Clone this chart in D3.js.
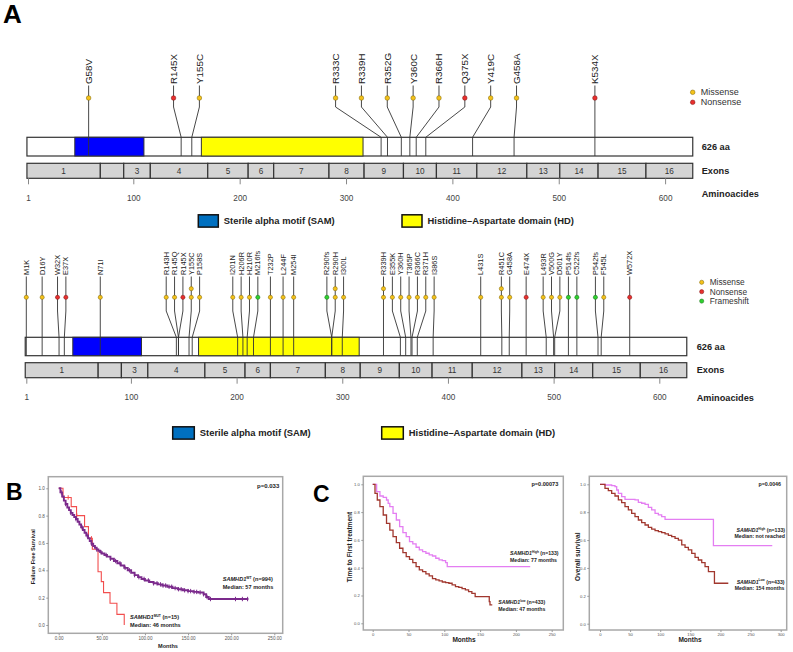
<!DOCTYPE html>
<html>
<head>
<meta charset="utf-8">
<script src="https://cdn.jsdelivr.net/npm/d3@7"></script>
<style>
body { margin: 0; background: #fff; }
svg { display: block; font-family: "Liberation Sans", Arial, sans-serif; }
</style>
</head>
<body>
<div id="chart"></div>
<script>
// ---- protein (SAMHD1, 626 aa) ----
const proteinLength = 626;
const exonBounds = [0, 69, 91, 116, 170, 208, 232, 284, 317, 354, 385, 423, 470, 501, 537, 582, 626];
const exonLabels = ["1", "", "3", "4", "5", "6", "7", "8", "9", "10", "11", "12", "13", "14", "15", "16"];
const domainNames = ["Sterile alpha motif (SAM)", "Histidine\u2013Aspartate domain (HD)"];
const domainStart = [45, 164];
const domainEnd = [110, 316];
const aaTicks = [1, 100, 200, 300, 400, 500, 600];

// top track
const mutA = ["G58V", "R145X", "Y155C", "R333C", "R339H", "R352G", "Y360C", "R366H", "Q375X", "Y419C", "G458A", "K534X"];
const mutAPos = [58, 145, 155, 333, 339, 352, 360, 366, 375, 419, 458, 534];
const mutAType = ["Missense", "Nonsense", "Missense", "Missense", "Missense", "Missense", "Missense", "Missense", "Nonsense", "Missense", "Missense", "Nonsense"];
const mutACount = [1, 1, 1, 1, 1, 1, 1, 1, 1, 1, 1, 1];

// bottom track
const mutB = ["M1K", "D16Y", "W32X", "E37X", "N71I", "R143H", "R145Q", "R145X", "Y155C", "P158S",
  "I201N", "H206R", "H210R", "M216fs", "T232P", "L244F", "M254I", "R290fs", "R290H", "I300L",
  "R339H", "E355K", "Y360H", "T365P", "R366C", "R371H", "I386S", "L431S", "R451C", "G458A",
  "E474X", "L493R", "V500G", "D501Y", "P514fs", "C522fs", "P542fs", "F545L", "W572X"];
const mutBPos = [1, 16, 32, 37, 71, 143, 145, 145, 155, 158,
  201, 206, 210, 216, 232, 244, 254, 290, 290, 300,
  339, 355, 360, 365, 366, 371, 386, 431, 451, 458,
  474, 493, 500, 501, 514, 522, 542, 545, 572];
const mutBType = ["Missense", "Missense", "Nonsense", "Nonsense", "Missense", "Missense", "Missense", "Nonsense", "Missense", "Missense",
  "Missense", "Missense", "Missense", "Frameshift", "Missense", "Missense", "Missense", "Frameshift", "Missense", "Missense",
  "Missense", "Missense", "Missense", "Missense", "Missense", "Missense", "Missense", "Missense", "Missense", "Missense",
  "Nonsense", "Missense", "Missense", "Missense", "Frameshift", "Frameshift", "Frameshift", "Missense", "Nonsense"];
const mutBCount = [1, 1, 1, 1, 1, 1, 1, 1, 2, 1,
  1, 1, 1, 1, 1, 1, 1, 1, 2, 1,
  2, 1, 1, 1, 1, 1, 1, 1, 2, 1,
  1, 1, 1, 1, 1, 1, 1, 1, 1];

// ---- survival curves (months, survival) ----
const ffsWT = [[0, 1], [2, 0.97], [4, 0.94], [6, 0.91], [8, 0.885], [10, 0.86], [12, 0.84], [14, 0.82], [16, 0.805],
  [18, 0.79], [20, 0.775], [22, 0.755], [24, 0.735], [26, 0.715], [28, 0.695], [30, 0.675], [32, 0.655], [34, 0.635],
  [36, 0.615], [38, 0.595], [40, 0.578], [42, 0.565], [44, 0.553], [46, 0.543], [48, 0.533], [50, 0.523], [53, 0.512],
  [56, 0.5], [60, 0.485], [64, 0.468], [68, 0.452], [72, 0.435], [76, 0.418], [80, 0.4], [84, 0.382], [88, 0.365],
  [92, 0.35], [96, 0.337], [100, 0.326], [105, 0.315], [110, 0.305], [115, 0.297], [120, 0.289], [126, 0.28],
  [132, 0.27], [138, 0.262], [144, 0.254], [150, 0.248], [156, 0.242], [162, 0.238], [168, 0.225], [171, 0.205],
  [174, 0.19], [220, 0.19]];
const ffsWTCensor = [3, 8, 14, 20, 27, 33, 38, 44, 49, 55, 60, 66, 71, 77, 82, 88, 93, 99, 104, 110, 114, 118, 121,
  124, 128, 131, 135, 139, 142, 146, 150, 153, 157, 160, 164, 168, 172, 176, 205, 213, 219];
const ffsMUT = [[0, 1], [5, 0.933], [14.5, 0.866], [20.7, 0.8], [30, 0.72], [34.5, 0.634], [39, 0.554], [45.6, 0.39],
  [49.4, 0.317], [52, 0.237], [59.5, 0.159], [67.5, 0.078], [76, 0]];
const ffsMUTCensor = [11, 21, 38];

const ttftHigh = [[0, 1], [5.5, 0.947], [10.1, 0.916], [14.7, 0.906], [19.3, 0.887], [21.6, 0.863], [23.9, 0.839],
  [28.4, 0.791], [33, 0.743], [37.6, 0.695], [42.2, 0.652], [46.8, 0.624], [51.4, 0.588], [56, 0.571], [60.6, 0.547],
  [65.1, 0.528], [69.7, 0.516], [74.3, 0.504], [78.9, 0.492], [83.5, 0.484], [88.1, 0.468], [92.7, 0.456],
  [97.2, 0.451], [101.8, 0.436], [104.1, 0.408], [220, 0.408]];
const ttftLow = [[0, 1], [3.2, 0.935], [6.4, 0.887], [10.1, 0.839], [14.7, 0.779], [19.3, 0.719], [23.9, 0.671],
  [28.4, 0.624], [33, 0.58], [37.6, 0.54], [42.2, 0.508], [46.8, 0.48], [51.4, 0.46], [56, 0.436], [60.6, 0.408],
  [65.1, 0.384], [69.7, 0.372], [74.3, 0.355], [78.9, 0.341], [83.5, 0.321], [88.1, 0.312], [92.7, 0.305],
  [97.2, 0.297], [101.8, 0.293], [106.4, 0.288], [110.9, 0.276], [115.6, 0.264], [120.2, 0.259], [124.8, 0.249],
  [129.4, 0.24], [133.9, 0.228], [138.5, 0.216], [143.1, 0.192], [162.8, 0.156], [163.8, 0.132], [167, 0.132]];

const osHigh = [[0, 1], [8.3, 0.995], [19.4, 0.99], [24.9, 0.983], [27.7, 0.959], [30.5, 0.935], [36, 0.911],
  [41.5, 0.892], [58.1, 0.888], [63.7, 0.871], [69.2, 0.864], [74.8, 0.856], [80.3, 0.835], [85.8, 0.816],
  [91.4, 0.792], [96.9, 0.78], [102.4, 0.768], [108, 0.749], [188.3, 0.56], [286, 0.56]];
const osLow = [[0, 1], [8.3, 0.971], [13.8, 0.955], [19.4, 0.935], [24.9, 0.916], [30.5, 0.888], [36, 0.868],
  [41.5, 0.84], [47.1, 0.816], [52.6, 0.792], [58.1, 0.768], [63.7, 0.744], [69.2, 0.725], [74.8, 0.708],
  [80.3, 0.691], [85.8, 0.679], [91.4, 0.667], [96.9, 0.66], [102.4, 0.653], [108, 0.644], [113.5, 0.634],
  [119, 0.624], [124.6, 0.612], [130.1, 0.6], [135.7, 0.565], [141.2, 0.548], [146.7, 0.529], [152.3, 0.505],
  [157.8, 0.476], [163.3, 0.457], [168.9, 0.438], [174.4, 0.409], [180, 0.373], [190, 0.29], [213, 0.29]];

const survTicks = [0, 0.2, 0.4, 0.6, 0.8, 1.0];

// colours
const typeFill = {Missense: "#f4c21b", Nonsense: "#e8302e", Frameshift: "#2fd12f"};
const typeStroke = {Missense: "#7d6200", Nonsense: "#7a1212", Frameshift: "#146a14"};
const domainBarFill = ["#0000ff", "#ffff00"];
const domainKeyFill = ["#0070c0", "#ffff00"];

const W = 793, H = 652;
const svg = d3.select("#chart").append("svg")
    .attr("width", W)
    .attr("height", H);
svg.append("rect").attr("width", W).attr("height", H).attr("fill", "#fff");

// panel letters
[["A", 3, 23, 26], ["B", 6, 500, 23], ["C", 313, 502, 23]].forEach(p => {
    svg.append("text").attr("x", p[1]).attr("y", p[2])
        .attr("font-size", p[3]).attr("font-weight", "bold").text(p[0]);
});

// spread lollipop heads so they keep a minimal gap, groups centred on their sites
function spread(xs, gap) {
    let groups = xs.map(v => ({sum: v, n: 1}));
    let changed = true;
    while (changed) {
        changed = false;
        for (let i = 0; i < groups.length - 1; i++) {
            const a = groups[i], b = groups[i + 1];
            const aEnd = a.sum / a.n + (a.n - 1) * gap / 2;
            const bStart = b.sum / b.n - (b.n - 1) * gap / 2;
            if (bStart - aEnd < gap - 1e-6) {
                a.sum += b.sum; a.n += b.n;
                groups.splice(i + 1, 1);
                changed = true;
                break;
            }
        }
    }
    const out = [];
    groups.forEach(g => {
        const c = g.sum / g.n;
        for (let k = 0; k < g.n; k++) out.push(c + (k - (g.n - 1) / 2) * gap);
    });
    return out;
}

function drawTrack(c) {
    const g = svg.append("g");
    const x = d3.scaleLinear().domain([1, 600]).range(c.range);

    // protein bar + domains
    g.append("rect").attr("x", x(0)).attr("y", c.barTop)
        .attr("width", x(proteinLength) - x(0)).attr("height", c.barBot - c.barTop)
        .attr("fill", "#fff").attr("stroke", "#333").attr("stroke-width", 1.2);
    domainStart.forEach((s, i) => {
        g.append("rect").attr("x", x(s)).attr("y", c.barTop)
            .attr("width", x(domainEnd[i]) - x(s)).attr("height", c.barBot - c.barTop)
            .attr("fill", domainBarFill[i]).attr("stroke", "#333").attr("stroke-width", 1);
    });

    // exons
    d3.range(exonLabels.length).forEach(i => {
        const x0 = x(exonBounds[i]), x1 = x(exonBounds[i + 1]);
        g.append("rect").attr("x", x0).attr("y", c.exTop)
            .attr("width", x1 - x0).attr("height", c.exBot - c.exTop)
            .attr("fill", "#d4d4d4").attr("stroke", "#333").attr("stroke-width", 1.2);
        g.append("text").attr("x", (x0 + x1) / 2).attr("y", (c.exTop + c.exBot) / 2)
            .attr("dy", "0.35em").attr("text-anchor", "middle")
            .attr("font-size", 8.2).attr("fill", "#333").text(exonLabels[i]);
    });

    // amino-acid axis
    const ax = g.append("g").attr("transform", `translate(0,${c.exBot})`)
        .call(d3.axisBottom(x).tickValues(aaTicks).tickSize(6).tickPadding(c.tickPad));
    ax.select(".domain").remove();
    ax.selectAll("line").attr("stroke", "#888");
    ax.selectAll("text").attr("font-size", 8.2).attr("fill", "#444")
        .attr("font-family", "Liberation Sans, Arial, sans-serif");

    // lollipops
    const order = d3.range(c.pos.length).sort((a, b) => c.pos[a] - c.pos[b]);
    const heads = spread(order.map(i => x(c.pos[i])), c.gap);
    order.forEach((i, k) => {
        const bx = x(c.pos[i]), hx = heads[k];
        g.append("path")
            .attr("d", `M${hx},${c.yLabel + 1.5}L${hx},${c.yBend}L${bx},${c.barTop}L${bx},${c.barBot}`)
            .attr("fill", "none").attr("stroke", "#333").attr("stroke-width", 0.9);
        for (let n = 0; n < c.count[i]; n++) {
            g.append("circle").attr("cx", hx).attr("cy", c.yHead - n * c.stack)
                .attr("r", c.r)
                .attr("fill", typeFill[c.type[i]]).attr("stroke", typeStroke[c.type[i]])
                .attr("stroke-width", 0.5);
        }
        g.append("text")
            .attr("transform", `translate(${hx},${c.yLabel}) rotate(-90)`)
            .attr("dy", "0.35em").attr("font-size", c.labelFont).attr("fill", "#222")
            .text(c.labels[i]);
    });

    // mutation type key
    c.keyTypes.forEach((t, i) => {
        const y = c.keyY + i * c.keyStep;
        g.append("circle").attr("cx", c.keyX).attr("cy", y).attr("r", c.r)
            .attr("fill", typeFill[t]).attr("stroke", typeStroke[t]).attr("stroke-width", 0.5);
        g.append("text").attr("x", c.keyX + 8).attr("y", y).attr("dy", "0.35em")
            .attr("font-size", c.keyFont).attr("fill", "#333").text(t);
    });

    // right-hand captions
    [[proteinLength + " aa", (c.barTop + c.barBot) / 2], ["Exons", (c.exTop + c.exBot) / 2], ["Aminoacides", c.aaCapY]]
        .forEach(d => {
            g.append("text").attr("x", c.capX).attr("y", d[1]).attr("dy", "0.35em")
                .attr("font-size", 9.2).attr("font-weight", "bold").attr("fill", "#222").text(d[0]);
        });

    // domain key
    domainNames.forEach((name, i) => {
        g.append("rect").attr("x", c.domKeyX[i]).attr("y", c.domKeyY - 6.2)
            .attr("width", c.domKeyW).attr("height", 12.3)
            .attr("fill", domainKeyFill[i]).attr("stroke", "#111").attr("stroke-width", 1.5);
        g.append("text").attr("x", c.domKeyX[i] + c.domKeyW + 5.5).attr("y", c.domKeyY).attr("dy", "0.35em")
            .attr("font-size", 9.4).attr("font-weight", "bold").attr("fill", "#222").text(name);
    });
}

drawTrack({
    range: [28, 665.1], labels: mutA, pos: mutAPos, type: mutAType, count: mutACount,
    yLabel: 84, yHead: 98, yBend: 107, barTop: 137.3, barBot: 156, exTop: 163.3, exBot: 178.3,
    tickPad: 11, gap: 25.85, stack: 8.6, r: 2.3, labelFont: 9.8,
    keyTypes: ["Missense", "Nonsense"], keyX: 692.7, keyY: 92.3, keyStep: 10, keyFont: 9,
    capX: 701.7, aaCapY: 194,
    domKeyX: [198.3, 402], domKeyY: 221, domKeyW: 20
});

drawTrack({
    range: [26.3, 659.3], labels: mutB, pos: mutBPos, type: mutBType, count: mutBCount,
    yLabel: 275, yHead: 297.3, yBend: 311, barTop: 337.3, barBot: 355.7, exTop: 362.7, exBot: 377.7,
    tickPad: 10.5, gap: 8.35, stack: 8.6, r: 2.1, labelFont: 7.4,
    keyTypes: ["Missense", "Nonsense", "Frameshift"], keyX: 701.7, keyY: 282.3, keyStep: 9.4, keyFont: 8.3,
    capX: 696.7, aaCapY: 397.3,
    domKeyX: [172.7, 381.7], domKeyY: 433, domKeyW: 21.6
});

// ---- Kaplan-Meier panels ----
function stepValue(curve, t) {
    let v = curve[0][1];
    curve.forEach(p => { if (p[0] <= t) v = p[1]; });
    return v;
}

function annot(g, xx, y, anchor, group, sup, n, median) {
    const t = g.append("text").attr("x", xx).attr("y", y).attr("text-anchor", anchor)
        .attr("font-size", median.size).attr("font-weight", "bold").attr("fill", "#222");
    t.append("tspan").attr("font-style", "italic").text(group);
    t.append("tspan").attr("font-size", median.size * 0.6).attr("dy", -median.size * 0.4).text(sup);
    t.append("tspan").attr("dy", median.size * 0.4).text(" " + n);
    g.append("text").attr("x", xx).attr("y", y + median.gap).attr("text-anchor", anchor)
        .attr("font-size", median.size).attr("font-weight", "bold").attr("fill", "#222").text(median.text);
}

function drawKM(c) {
    const g = svg.append("g");
    const x = d3.scaleLinear().domain([0, c.xMax]).range(c.xRange);
    const y = d3.scaleLinear().domain([0, 1]).range(c.yRange);

    g.append("rect").attr("x", c.frame[0]).attr("y", c.frame[1])
        .attr("width", c.frame[2] - c.frame[0]).attr("height", c.frame[3] - c.frame[1])
        .attr("fill", "none").attr("stroke", "#a8a8a8").attr("stroke-width", 1.5);

    const ya = g.append("g").attr("transform", `translate(${c.frame[0]},0)`)
        .call(d3.axisLeft(y).tickValues(survTicks).tickFormat(d3.format(".1f")).tickSize(2).tickPadding(1.5));
    const xa = g.append("g").attr("transform", `translate(0,${c.frame[3]})`)
        .call(d3.axisBottom(x).tickValues(c.xTicks).tickFormat(c.xFormat).tickSize(2).tickPadding(1));
    [ya, xa].forEach(a => {
        a.select(".domain").remove();
        a.selectAll("line").attr("stroke", "#999");
        a.selectAll("text").attr("font-size", c.tickFont).attr("fill", "#555")
            .attr("font-family", "Liberation Sans, Arial, sans-serif");
    });

    g.append("text").attr("x", (c.frame[0] + c.frame[2]) / 2 + c.xLabShift).attr("y", c.xLabY)
        .attr("text-anchor", "middle").attr("font-size", c.labFont).attr("font-weight", "bold")
        .attr("fill", "#222").text("Months");
    g.append("text").attr("transform", `translate(${c.yLabX},${c.yLabY}) rotate(-90)`)
        .attr("text-anchor", "middle").attr("font-size", c.labFont).attr("font-weight", "bold")
        .attr("fill", "#222").text(c.yLabel);
    g.append("text").attr("x", c.pX).attr("y", c.pY).attr("text-anchor", "end")
        .attr("font-size", c.pFont).attr("font-weight", "bold").attr("fill", "#222").text(c.p);

    const line = d3.line().x(d => x(d[0])).y(d => y(d[1])).curve(d3.curveStepAfter);
    c.curves.forEach(s => {
        g.append("path").datum(s.data).attr("d", line)
            .attr("fill", "none").attr("stroke", s.color).attr("stroke-width", s.width);
        (s.censor || []).forEach(t => {
            const cx = x(t), cy = y(stepValue(s.data, t));
            g.append("line").attr("x1", cx).attr("x2", cx).attr("y1", cy - 2.2).attr("y2", cy + 2.2)
                .attr("stroke", s.color).attr("stroke-width", 1);
        });
    });

    c.notes.forEach(n => annot(g, n.x, n.y, n.anchor, "SAMHD1", n.sup, n.n,
        {text: n.median, size: c.noteFont, gap: c.noteGap}));
}

drawKM({
    xMax: 250, xRange: [58.7, 274.3], yRange: [625, 488.3], frame: [48.3, 476.7, 282.7, 633.3],
    xTicks: [0, 50, 100, 150, 200, 250], xFormat: d3.format(".2f"), tickFont: 4.6,
    labFont: 5.6, xLabShift: 2.5, xLabY: 648.3, yLabX: 34.5, yLabY: 556.7, yLabel: "Failure Free Survival",
    p: "p=0.033", pX: 279.3, pY: 488.2, pFont: 6,
    curves: [
        {data: ffsMUT, color: "#f24e4e", width: 1.1, censor: ffsMUTCensor},
        {data: ffsWT, color: "#7b2a8c", width: 1.9, censor: ffsWTCensor}
    ],
    noteFont: 5.6, noteGap: 8,
    notes: [
        {x: 222.7, y: 581.3, anchor: "start", sup: "WT", n: "(n=994)", median: "Median: 57 months"},
        {x: 130, y: 619.3, anchor: "start", sup: "MUT", n: "(n=15)", median: "Median: 46 months"}
    ]
});

drawKM({
    xMax: 250, xRange: [372.7, 551.7], yRange: [623.3, 484.3], frame: [363.3, 476.3, 563.3, 630],
    xTicks: [0, 50, 100, 150, 200, 250], xFormat: d3.format("d"), tickFont: 4.2,
    labFont: 6.5, xLabShift: 0.7, xLabY: 641.6, yLabX: 351.6, yLabY: 547, yLabel: "Time to First treatment",
    p: "p=0.00073", pX: 558.3, pY: 486.3, pFont: 5.6,
    curves: [
        {data: ttftHigh, color: "#e47ef2", width: 1.3},
        {data: ttftLow, color: "#a1372e", width: 1.3}
    ],
    noteFont: 5.2, noteGap: 6.5,
    notes: [
        {x: 510, y: 555, anchor: "start", sup: "High", n: "(n=133)", median: "Median: 77 months"},
        {x: 498.3, y: 604, anchor: "start", sup: "low", n: "(n=433)", median: "Median: 47 months"}
    ]
});

drawKM({
    xMax: 300, xRange: [600, 780.7], yRange: [623.7, 484.3], frame: [589.3, 476.3, 786.7, 630],
    xTicks: [0, 50, 100, 150, 200, 250, 300], xFormat: d3.format("d"), tickFont: 4.2,
    labFont: 6.5, xLabShift: 2, xLabY: 641.6, yLabX: 580, yLabY: 556.7, yLabel: "Overall survival",
    p: "p=0.0046", pX: 781, pY: 486.3, pFont: 5.3,
    curves: [
        {data: osHigh, color: "#e47ef2", width: 1.3},
        {data: osLow, color: "#a1372e", width: 1.3}
    ],
    noteFont: 5.2, noteGap: 6.5,
    notes: [
        {x: 785, y: 531.8, anchor: "end", sup: "High", n: "(n=133)", median: "Median: not reached"},
        {x: 784.5, y: 583.5, anchor: "end", sup: "Low", n: "(n=433)", median: "Median: 154 months"}
    ]
});
</script>
</body>
</html>
